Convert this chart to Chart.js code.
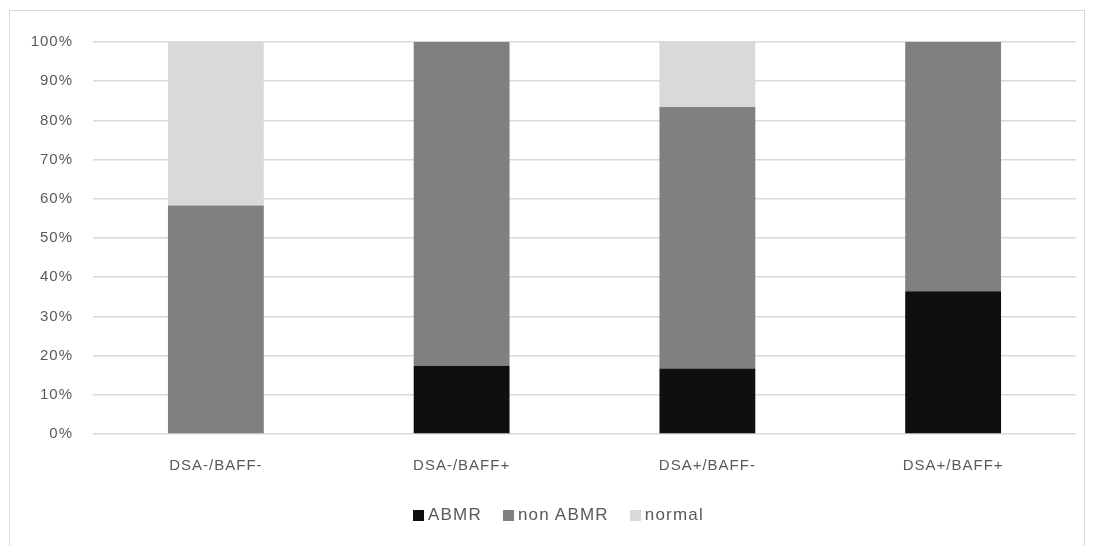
<!DOCTYPE html>
<html>
<head>
<meta charset="utf-8">
<script src="https://cdn.jsdelivr.net/npm/chart.js@4"></script>
<style>
  html, body { margin: 0; padding: 0; background: #fff; }
  #wrap { position: relative; width: 1094px; height: 546px; overflow: hidden; }
  #frame { position: absolute; left: 9px; top: 10px; width: 1076px; height: 560px; border: 1.5px solid #d9d9d9; box-sizing: border-box; }
  canvas { position: absolute; left: 0; top: 0; }
  #legend { position: absolute; left: 413px; top: 505px; display: flex; align-items: center;
            font-family: 'Liberation Sans', Arial, sans-serif; font-size: 17px; letter-spacing: 1.2px; color: #595959; }
  .item { display: flex; align-items: center; margin-right: 21px; }
  .box { width: 11px; height: 11px; margin-right: 4px; }
</style>
</head>
<body>
<div id="wrap">
  <div id="frame"></div>
  <canvas id="c" width="1094" height="546"></canvas>
  <div id="legend"></div>
</div>
<script>
const categories = ["DSA-/BAFF-", "DSA-/BAFF+", "DSA+/BAFF-", "DSA+/BAFF+"];
const abmr = [0, 17.4, 16.7, 36.4];
const nonAbmr = [58.3, 82.6, 66.7, 63.6];
const normal = [41.7, 0, 16.6, 0];
const seriesNames = ["ABMR", "non ABMR", "normal"];
const seriesColors = ["#0f0f0f", "#808080", "#d9d9d9"];
const yTicks = [0, 10, 20, 30, 40, 50, 60, 70, 80, 90, 100];

const FONT = { family: "'Liberation Sans', Arial, sans-serif", size: 15 };
const TEXT = "#595959";

const spacing = {
  id: "spacing",
  beforeLayout: c => { c.ctx.letterSpacing = "1px"; },
  beforeDraw: c => { c.ctx.letterSpacing = "1px"; }
};

const legend = document.getElementById("legend");
seriesNames.forEach((n, i) => {
  const it = document.createElement("div");
  it.className = "item";
  const b = document.createElement("span");
  b.className = "box";
  b.style.background = seriesColors[i];
  const t = document.createElement("span");
  t.textContent = n;
  it.appendChild(b); it.appendChild(t);
  legend.appendChild(it);
});

new Chart(document.getElementById("c"), {
  type: "bar",
  plugins: [spacing],
  data: {
    labels: categories,
    datasets: [abmr, nonAbmr, normal].map((d, i) => ({
      label: seriesNames[i],
      data: d,
      backgroundColor: seriesColors[i],
      borderWidth: 0,
      categoryPercentage: 1,
      barPercentage: 0.39
    }))
  },
  options: {
    responsive: false,
    animation: false,
    layout: { padding: { left: 0, right: 18, top: 42, bottom: 62 } },
    plugins: {
      tooltip: { enabled: false },
      legend: { display: false }
    },
    scales: {
      x: {
        stacked: true,
        grid: { display: false, drawTicks: false },
        border: { display: false },
        ticks: { color: TEXT, font: FONT, padding: 23, maxRotation: 0 },
        afterFit: s => { s.height = 50; }
      },
      y: {
        stacked: true,
        min: yTicks[0],
        max: yTicks[yTicks.length - 1],
        grid: { color: "#d9d9d9", lineWidth: 1.5, drawTicks: false },
        border: { display: false },
        afterBuildTicks: s => { s.ticks = yTicks.map(v => ({ value: v })); },
        ticks: {
          color: TEXT,
          font: FONT,
          padding: 20,
          callback: v => v + "%"
        },
        afterFit: s => { s.width = 93; }
      }
    }
  }
});
</script>
</body>
</html>
